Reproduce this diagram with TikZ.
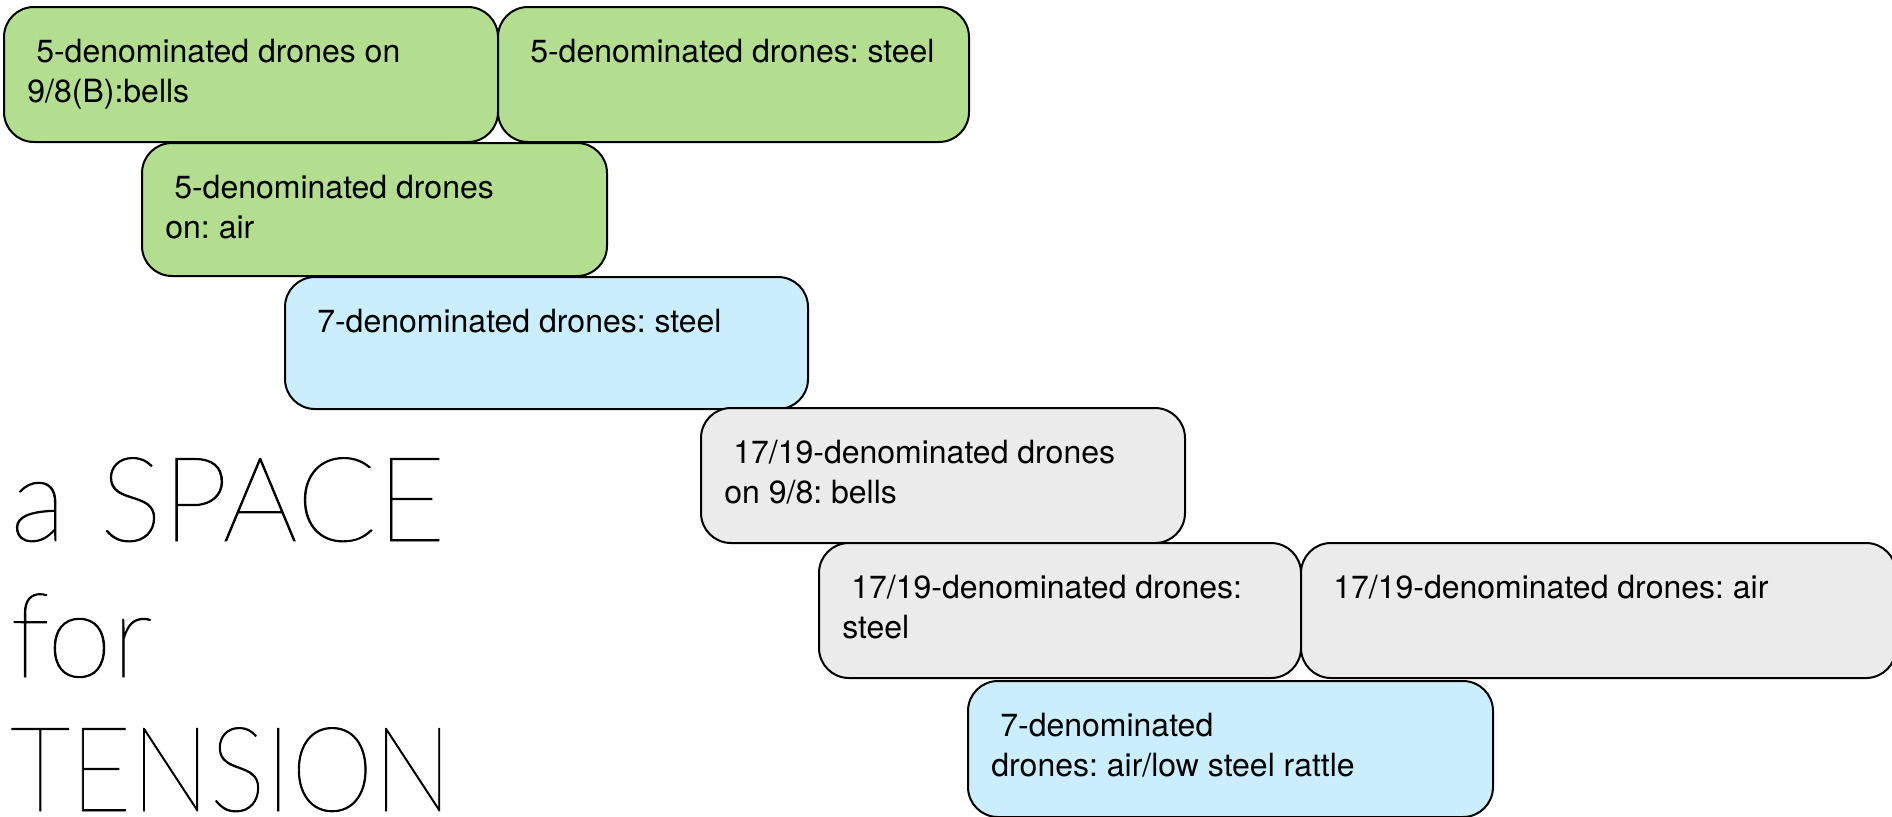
\documentclass[tikz,border=0pt]{standalone}
\usepackage{fontspec}
\setmainfont{TeX Gyre Heros}
\newfontfamily\titlefont[FakeBold=0.8]{Lato Hairline}
\usetikzlibrary{positioning}
\definecolor{dronegreen}{RGB}{180,222,143}
\definecolor{droneblue}{RGB}{203,238,252}
\definecolor{dronegray}{RGB}{235,235,235}
\frenchspacing
\begin{document}
\begin{tikzpicture}[
                    x=0.5pt,
                    y=-0.5pt,
                    drone/.style={draw, line width=1pt, rounded corners=15pt, outer sep=0pt,
                                  minimum height=67.5pt, inner sep=0pt, anchor=north west},
                    lbl/.style={anchor=north west, inner sep=0pt, align=left,
                                font=\fontsize{16}{20}\selectfont},
                    title/.style={anchor=base west, inner sep=0pt,
                                  font=\titlefont\fontsize{59}{59}\selectfont}
                ]
                \useasboundingbox (0,0) rectangle (1892,816);

                \node (B1) [drone, fill=dronegreen, minimum width=247pt] at (4,7) {};
                \node (B2) [drone, fill=dronegreen, minimum width=235.5pt, right=0pt of B1] {};
                \node (B3) [drone, fill=dronegreen, minimum width=232.5pt, minimum height=66.5pt] at (142,143) {};
                \node (B4) [drone, fill=droneblue, minimum width=261.5pt, minimum height=66pt] at (285,277) {};
                \node (B5) [drone, fill=dronegray, minimum width=242pt] at (701,408) {};
                \node (B6) [drone, fill=dronegray, minimum width=241pt] at (819,543) {};
                \node (B7) [drone, fill=dronegray, minimum width=297.5pt, right=0pt of B6] {};
                \node (B8) [drone, fill=droneblue, minimum width=262.5pt, minimum height=68pt] at (968,681) {};

                \node (L1) [lbl] at ([shift={(23,32)}]B1.north west) {\ 5-denominated drones on\\9/8(B):bells};
                \node (L2) [lbl] at ([shift={(23,32)}]B2.north west) {\ 5-denominated drones: steel};
                \node (L3) [lbl] at ([shift={(23,32)}]B3.north west) {\ 5-denominated drones\\on: air};
                \node (L4) [lbl] at ([shift={(23,32)}]B4.north west) {\ 7-denominated drones: steel};
                \node (L5) [lbl] at ([shift={(23,32)}]B5.north west) {\ 17/19-denominated drones\\on 9/8: bells};
                \node (L6) [lbl] at ([shift={(23,32)}]B6.north west) {\ 17/19-denominated drones:\\steel};
                \node (L7) [lbl] at ([shift={(23,32)}]B7.north west) {\ 17/19-denominated drones: air};
                \node (L8) [lbl] at ([shift={(23,32)}]B8.north west) {\ 7-denominated\\drones: air/low steel rattle};

                \node (T1) [title] at (10,541) {a SPACE};
                \node (T2) [title] at (10,677) {for};
                \node (T3) [title, xscale=0.89] at (10,811) {TENSION};
            \end{tikzpicture}
\end{document}
